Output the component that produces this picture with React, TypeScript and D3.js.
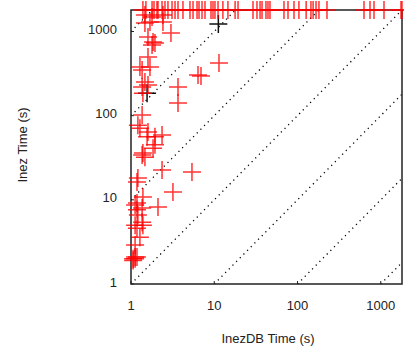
import React, { useEffect, useRef } from 'react';
import * as d3 from 'd3';

// InezDB time (x) vs Inez time (y), seconds
const redX = [
  1.47, 1.79, 2.42, 2.42, 1.47, 1.69, 3.02, 1.6, 1.84, 1.94, 1.79, 1.6,
  11.4, 6.93, 6.38, 3.67, 3.67, 1.36, 1.28, 1.47, 1.36, 1.6, 1.39, 1.69,
  1.36, 1.21, 1.28, 1.6, 2.36, 1.94, 1.56, 1.94, 1.84, 1.36, 1.47, 1.39,
  2.36, 5.4, 1.21, 1.18, 3.19, 1.12, 1.36, 2.11, 1.21, 1.36, 1.12, 1.18,
  1.28, 1.12, 1.12, 1.12, 1.06, 1.06, 1.18, 1.39, 1.18, 1.18, 1.39,
];
const redY = [
  1567, 1483, 1567, 1294, 1259, 1294, 957, 858, 748, 728, 689, 496,
  422, 295, 304, 219, 141, 348, 378, 251, 219, 231, 185, 378,
  102, 77, 71, 64, 59, 56, 56, 45, 41, 34, 32, 36,
  22.6, 21.4, 18.2, 16.3, 12.4, 8.7, 8.0, 8.2, 6.6, 5.4, 5.0, 4.6,
  3.6, 2.9, 2.1, 2.0, 1.9, 2.0, 2.1, 10.8, 9.2, 7.6, 5.0,
];

// runs that hit the timeout (drawn on the top edge)
const timeoutX = [
  1.39, 1.51, 1.79, 1.89, 2.05, 2.11, 2.36, 2.56, 2.78, 3.11, 3.38, 3.67,
  4.21, 5.11, 5.56, 6.21, 6.56, 7.13, 7.74, 9.14, 9.66, 10.2, 11.1, 12.7,
  14.6, 17.8, 19.3, 29.2, 32.6, 35.5, 37.5, 41.8, 44.2, 46.7, 68.8, 76.9,
  90.8, 104, 127, 145, 154, 167, 181, 226, 629, 743, 830, 1094, 1750, 1800,
];
const timeoutY = 1800;

const blackX = [11.2, 1.56];
const blackY = [1224, 185];

const ratios = [1e-3, 1e-2, 1e-1, 1, 10, 100, 1000];
const tickValues = [1, 10, 100, 1000];

const App = () => {
  const svgRef = useRef<SVGSVGElement>(null);

  useEffect(() => {
    const svg = d3.select(svgRef.current);
    svg.selectAll('*').remove();

    const left = 131, right = 402, top = 10, bottom = 284;
    const x = d3.scaleLog().domain([1, 1800]).range([left, right]);
    const y = d3.scaleLog().domain([1, 1800]).range([bottom, top]);
    const font = '"Liberation Sans", Arial, sans-serif';

    svg.append('defs').append('clipPath').attr('id', 'plotClip')
      .append('rect')
      .attr('x', left).attr('y', top)
      .attr('width', right - left).attr('height', bottom - top);

    // reference diagonals y = k * x
    const diag = svg.append('g').attr('clip-path', 'url(#plotClip)');
    ratios.forEach(k => {
      const x0 = Math.max(1, 1 / k);
      const x1 = Math.min(1800, 1800 / k);
      diag.append('line')
        .attr('x1', x(x0)).attr('y1', y(x0 * k))
        .attr('x2', x(x1)).attr('y2', y(x1 * k))
        .attr('stroke', '#000')
        .attr('stroke-width', 1.3)
        .attr('stroke-dasharray', '1.2,4');
    });

    // frame
    svg.append('rect')
      .attr('x', left).attr('y', top)
      .attr('width', right - left).attr('height', bottom - top)
      .attr('fill', 'none')
      .attr('stroke', '#222')
      .attr('stroke-width', 1.5);

    // inward ticks
    tickValues.forEach(t => {
      svg.append('line')
        .attr('x1', x(t)).attr('x2', x(t))
        .attr('y1', bottom).attr('y2', bottom - 3)
        .attr('stroke', '#222');
      svg.append('line')
        .attr('x1', left).attr('x2', left + 3)
        .attr('y1', y(t)).attr('y2', y(t))
        .attr('stroke', '#222');
    });

    const cross = (g, px, py, color) => {
      g.append('path')
        .attr('d', `M${px - 9},${py}H${px + 9}M${px},${py - 9}V${py + 9}`)
        .attr('stroke', color)
        .attr('stroke-width', 1.5)
        .attr('fill', 'none');
    };

    const pts = svg.append('g');
    blackX.forEach((v, i) => cross(pts, x(v), y(blackY[i]), '#111'));
    redX.forEach((v, i) => cross(pts, x(v), y(redY[i]), 'rgba(255,0,0,0.8)'));
    timeoutX.forEach(v => cross(pts, x(v), y(timeoutY), 'rgba(255,0,0,0.8)'));

    const label = (sel) => sel
      .style('font-family', font).style('font-size', '13px').style('fill', '#222');

    // tick labels
    tickValues.forEach(t => {
      svg.append('text')
        .attr('x', x(t)).attr('y', 310)
        .attr('text-anchor', 'middle')
        .call(label)
        .text(t);
      svg.append('text')
        .attr('x', 117).attr('y', y(t) + 2.5)
        .attr('text-anchor', 'end')
        .call(label)
        .text(t);
    });

    svg.append('text')
      .attr('x', 268).attr('y', 343)
      .attr('text-anchor', 'middle')
      .call(label)
      .text('InezDB Time (s)');

    svg.append('text')
      .attr('transform', `translate(27,145) rotate(-90)`)
      .attr('text-anchor', 'middle')
      .call(label)
      .text('Inez Time (s)');
  }, []);

  return (
    <svg
      ref={svgRef}
      width={404}
      height={359}
      style={{ position: 'fixed', left: 0, top: 0, background: '#fff' }}
    />
  );
};

export default App;
